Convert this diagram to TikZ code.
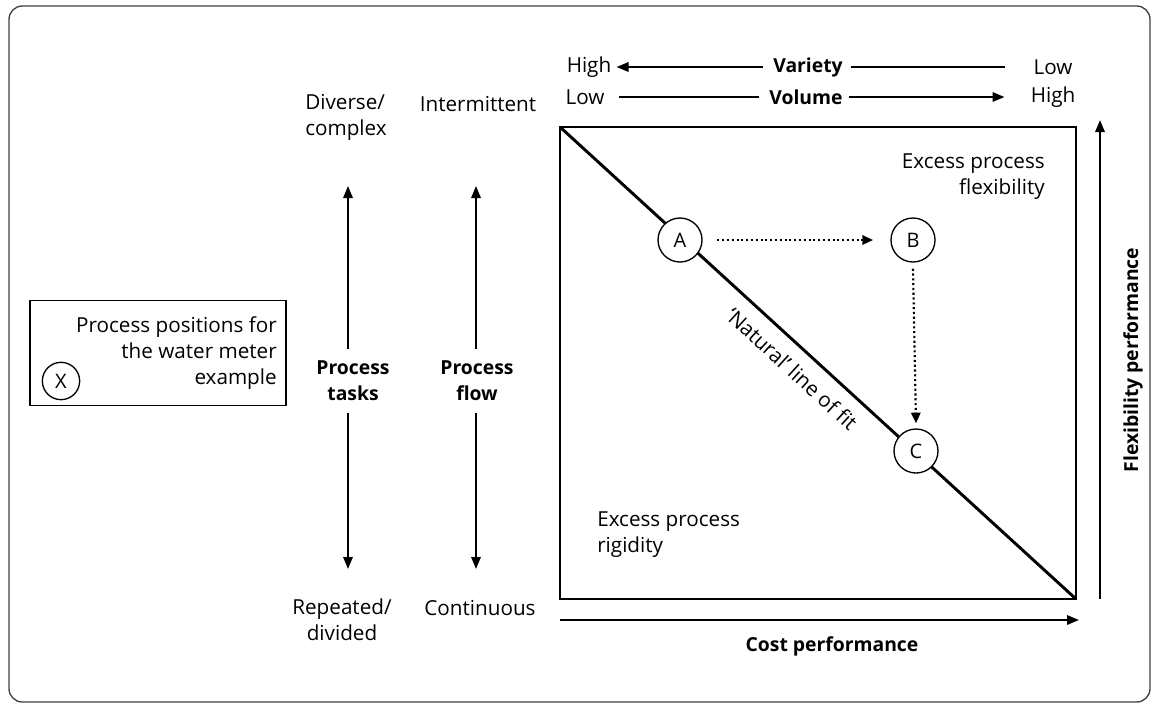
\documentclass[tikz,border=0pt]{standalone}
\usepackage{fontspec}
\setmainfont{Open Sans}
\usetikzlibrary{arrows.meta}
\begin{document}
\begin{tikzpicture}[x=0.75pt,y=-0.75pt,
  every node/.style={font=\fontsize{15.5}{19.5}\selectfont, inner sep=0pt},
  lbl/.style={align=center},
  bold/.style={font=\fontsize{14.5}{19.5}\selectfont\bfseries, align=center},
  frame/.style={line width=2.2pt},
  axis/.style={line width=1.6pt, -{Triangle[length=9pt,width=7pt]}},
  plain/.style={line width=1.6pt},
  posnode/.style={circle, draw, line width=1pt, fill=white, minimum size=33pt, font=\fontsize{15}{18}\selectfont},
  move/.style={line width=1.6pt, dotted, -{Triangle[length=8pt,width=7pt]}}
]
\useasboundingbox (0,0) rectangle (1152,704);
% outer frame
\draw[line width=1pt, black!75, rounded corners=10pt] (9,6) rectangle (1150,702);

% matrix square and the diagonal
\coordinate (tl) at (560,127);
\coordinate (br) at (1076,599);
\draw[frame] (tl) rectangle (br);
\draw[frame] (tl) -- (br);
\node[rotate=-42.45] (fit) at (792,369) {‘Natural’ line of fit};

% process positions
\node[posnode] (A) at (680,240) {A};
\node[posnode] (B) at (913,240) {B};
\node[posnode] (C) at (916,451) {C};
\draw[move] ([xshift=11pt]A.east) -- ([xshift=-13pt]B.west);
\draw[move] ([yshift=-4.5pt]B.south) -- ([yshift=3.75pt]C.north);

% region labels
\node[align=right, anchor=east] (flex) at (1045,177) {Excess process\\flexibility};
\node[align=left, anchor=west] (rig) at (597,535) {Excess process\\rigidity};

% performance axes
\coordinate (fb) at (1100,599);
\coordinate (ft) at (1100,120);
\draw[axis] (fb) -- (ft);
\node[bold, rotate=90] (flexperf) at (1133,360) {Flexibility performance};
\coordinate (cl) at (560,620);
\coordinate (cr) at (1079,620);
\draw[axis] (cl) -- (cr);
\node[bold] (costperf) at (832,646) {Cost performance};

% variety / volume scales
\node (hi1) at (589,67) {High};
\node[bold] (var) at (808,67) {Variety};
\node (lo1) at (1053,67) {Low};
\draw[axis] ([xshift=-7.5pt]var.west) -- ([xshift=3.75pt]hi1.east);
\draw[plain] ([xshift=6pt]var.east) -- ([xshift=-21pt]lo1.west);
\node (lo2) at (585,97) {Low};
\node[bold] (vol) at (806,97) {Volume};
\node (hi2) at (1053,97) {High};
\draw[plain] ([xshift=10.5pt]lo2.east) -- ([xshift=-7.5pt]vol.west);
\draw[axis] ([xshift=4.5pt]vol.east) -- ([xshift=-19.5pt]hi2.west);

% process tasks column
\node[align=left, anchor=west] (dc) at (305,117) {Diverse/\\complex};
\node[bold] (tasks) at (353,381) {Process\\tasks};
\node[lbl] (rd) at (342,620) {Repeated/\\divided};
\coordinate (ta) at (348,186);
\coordinate (tb) at (348,569);
\draw[axis] ([yshift=9pt]tasks.north -| ta) -- (ta);
\draw[axis] ([yshift=-9pt]tasks.south -| tb) -- (tb);

% process flow column
\node[lbl] (inter) at (478,104) {Intermittent};
\node[bold] (flow) at (477,381) {Process\\flow};
\node[lbl] (cont) at (480,608) {Continuous};
\coordinate (fa) at (476,186);
\coordinate (fbt) at (476,569);
\draw[axis] ([yshift=9pt]flow.north -| fa) -- (fa);
\draw[axis] ([yshift=-9pt]flow.south -| fbt) -- (fbt);

% key box
\node[draw, line width=1pt, minimum width=192pt, minimum height=79pt] (key) at (158,353) {};
\node[align=right, anchor=north east] (keytext) at (277,316) {Process positions for\\the water meter\\example};
\node[posnode, minimum size=28pt] (X) at (61,381) {X};
\end{tikzpicture}
\end{document}
